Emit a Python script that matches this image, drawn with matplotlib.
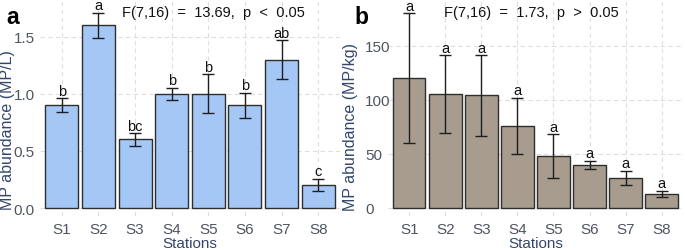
import matplotlib.pyplot as plt
import numpy as np

plt.rcParams["font.family"] = ["Liberation Sans", "DejaVu Sans"]

# Station labels (shared)
stations = ["S1", "S2", "S3", "S4", "S5", "S6", "S7", "S8"]

# Panel a: water, MP/L
water_mean = [0.90, 1.60, 0.60, 1.00, 1.00, 0.90, 1.30, 0.20]
water_err = [0.06, 0.11, 0.056, 0.055, 0.17, 0.11, 0.17, 0.055]
water_letters = ["b", "a", "bc", "b", "b", "b", "ab", "c"]
water_stat = "F(7,16)  =  13.69,  p  <  0.05"

# Panel b: sediment, MP/kg
sed_mean = [120, 105, 104, 76, 48, 40, 28, 13]
sed_err = [60, 36, 37, 26, 20, 3.8, 6.3, 2.8]
sed_letters = ["a", "a", "a", "a", "a", "a", "a", "a"]
sed_stat = "F(7,16)  =  1.73,  p  >  0.05"

TICK_COLOR = "#50555f"
LABEL_COLOR = "#34466a"
GRID_COLOR = "#dedede"

fig = plt.figure(figsize=(6.85, 2.51), dpi=100)


def draw_panel(rect, means, errs, letters, stat, stat_x, stat_y, color, ylim,
               yticks, yticklabels, ylabel, label_x, label_y, letter, letter_x,
               ytick_ha="right", ytick_pad=3.4):
    ax = fig.add_axes(rect)
    x = np.arange(1, len(stations) + 1)
    ax.set_axisbelow(True)
    ax.grid(True, linestyle=(0, (4, 3)), color=GRID_COLOR, linewidth=0.8)
    ax.bar(x, means, width=0.9, color=color, edgecolor="#2e2e2e", linewidth=1.0, zorder=2)
    ax.errorbar(x, means, yerr=errs, fmt="none", ecolor="#1e1e1e", elinewidth=1.0,
                capsize=4.5, capthick=1.0, zorder=3)
    for xi, m, e, t in zip(x, means, errs, letters):
        ax.annotate(t, (xi, m + e), xytext=(0, 2.5), textcoords="offset points",
                    ha="center", va="baseline", fontsize=10.5, color="#111111")
    ax.text(stat_x, stat_y, stat, ha="center", va="center", fontsize=10.5, color="#111111")

    ax.set_xlim(0.4, 8.6)
    ax.set_ylim(*ylim)
    ax.set_xticks(x)
    ax.set_xticklabels(stations)
    ax.set_yticks(yticks)
    ax.set_yticklabels(yticklabels)
    ax.tick_params(length=0, labelsize=11, colors=TICK_COLOR)
    ax.tick_params(axis="x", pad=4.3)
    ax.tick_params(axis="y", pad=ytick_pad)
    for lbl in ax.get_yticklabels():
        lbl.set_horizontalalignment(ytick_ha)
    for s in ax.spines.values():
        s.set_visible(False)
    ax.set_xlabel("Stations", fontsize=11, color=LABEL_COLOR, labelpad=0)
    ax.set_ylabel(ylabel, fontsize=11.5, color=LABEL_COLOR)
    ax.yaxis.set_label_coords(label_x, label_y)
    fig.text(letter_x, 0.904, letter, fontsize=16.5, fontweight="bold", va="baseline")
    return ax


draw_panel([39.7 / 685, 1 - 217 / 251, 300.6 / 685, 217 / 251],
           water_mean, water_err, water_letters, water_stat, 5.13, 1.716,
           "#a4c7f6", (-0.07, 1.83), [0, 0.5, 1.0, 1.5], ["0.0", "0.5", "1.0", "1.5"],
           "MP abundance (MP/L)", -0.082, 0.40, "a", 6 / 685)

draw_panel([387.6 / 685, 1 - 217 / 251, 295.7 / 685, 217 / 251],
           sed_mean, sed_err, sed_letters, sed_stat, 4.4, 181,
           "#a89c8f", (-7.4, 193.2), [0, 50, 100, 150], ["0", "50", "100", "150"],
           "MP abundance (MP/kg)", -0.100, 0.415, "b", 354 / 685,
           ytick_ha="left", ytick_pad=16.3)

fig.savefig("out.png", dpi=100)
